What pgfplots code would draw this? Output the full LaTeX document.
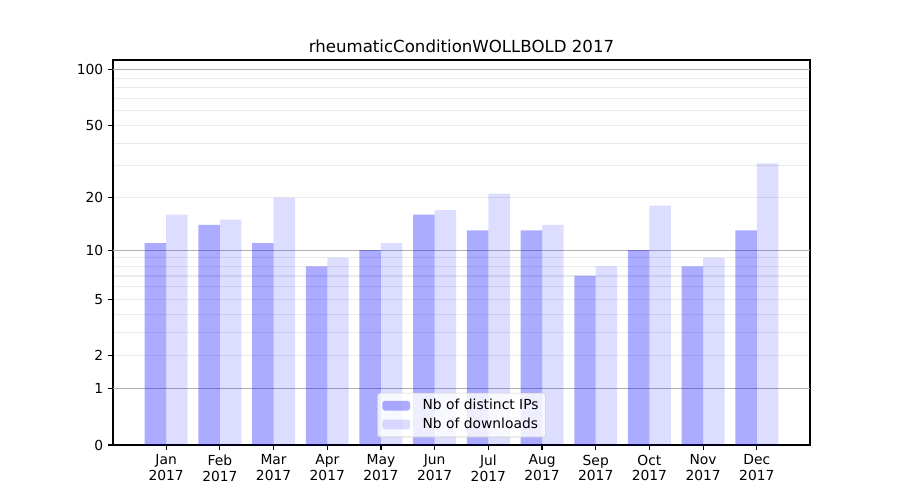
\documentclass[border=0pt]{standalone}
\usepackage{fontspec}
\setmainfont{DejaVu Sans}
\usepackage{pgfplots}
\pgfplotsset{compat=1.18}
\definecolor{majgrid}{HTML}{B0B0B0}
\definecolor{mingrid}{HTML}{EBEBEB}
\begin{document}
\begin{tikzpicture}
\path[use as bounding box] (-81.36bp,-39.6bp) rectangle (566.64bp,320.4bp);
\begin{axis}[
  at={(0,0)}, anchor=south west,
  scale only axis, width=501.84bp, height=277.2bp,
  xmin=-0.99, xmax=11.99, ymin=0, ymax=113,
  y coord trafo/.code={\pgfmathparse{log10(#1+1)}},
  y coord inv trafo/.code={\pgfmathparse{10^(#1)-1}},
  /pgf/number format/assume math mode=true,
  axis line style={line width=0.8bp},
  tick style={line width=0.8bp, black},
  major tick length=3.5bp,
  tick align=outside,
  xtick pos=bottom, ytick pos=left,
  xtick={0,1,2,3,4,5,6,7,8,9,10,11},
  xticklabels={Jan\\2017,Feb\\2017,Mar\\2017,Apr\\2017,May\\2017,Jun\\2017,Jul\\2017,Aug\\2017,Sep\\2017,Oct\\2017,Nov\\2017,Dec\\2017},
  xticklabel style={align=center, font=\fontsize{10}{11.5}\selectfont},
  ytick={0,1,2,5,10,20,50,100},
  yticklabels={0,1,2,5,10,20,50,100},
  yticklabel style={font=\fontsize{10}{12}\selectfont},
  minor ytick={2,3,4,5,6,7,8,9,20,30,40,50,60,70,80,90},
  minor tick length=0pt,
  yminorgrids=true,
  minor grid style={mingrid, line width=0.8bp},
  extra y ticks={1,10,100},
  extra y tick labels={},
  extra y tick style={grid=major, major grid style={majgrid, line width=0.8bp}, major tick length=0pt},
  title={rheumaticConditionWOLLBOLD 2017},
  title style={font=\fontsize{12}{14}\selectfont, at={(0.5,1)}, anchor=south, yshift=-4bp},
  legend style={at={(0.5,0.02)}, anchor=south, draw=black!20, rounded corners=2pt,
    fill=white, fill opacity=0.8, text opacity=1, font=\fontsize{10}{12}\selectfont,
    inner xsep=3.5bp, inner ysep=3bp, row sep=1.5bp,
    nodes={inner sep=1.5bp},
    /tikz/every odd column/.append style={column sep=7.5bp}},
  legend cell align=left,
]
\addplot[ybar, bar width=0.4, bar shift=-0.2, draw=none, fill=blue, fill opacity=0.33,
  legend image code/.code={\fill[blue, fill opacity=0.33] (0bp,-3.5bp) rectangle (20bp,3.5bp);}]
  coordinates {(0,11) (1,14) (2,11) (3,8) (4,10) (5,16) (6,13) (7,13) (8,7) (9,10) (10,8) (11,13)};
\addlegendentry{Nb of distinct IPs}
\addplot[ybar, bar width=0.4, bar shift=0.2, draw=none, fill=blue, fill opacity=0.133,
  legend image code/.code={\fill[blue, fill opacity=0.133] (0bp,-3.5bp) rectangle (20bp,3.5bp);}]
  coordinates {(0,16) (1,15) (2,20) (3,9) (4,11) (5,17) (6,21) (7,14) (8,8) (9,18) (10,9) (11,31)};
\addlegendentry{Nb of downloads}
\end{axis}
\end{tikzpicture}
\end{document}
